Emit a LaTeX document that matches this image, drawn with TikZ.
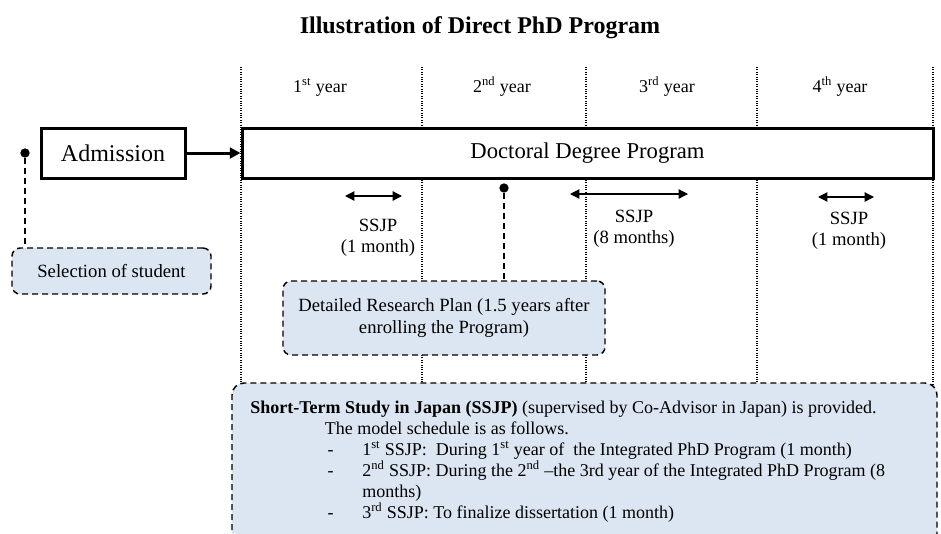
\documentclass[tikz,border=0pt]{standalone}
\usepackage{fontspec}
\setmainfont{Liberation Serif}
\usetikzlibrary{arrows.meta}
\usetikzlibrary{positioning}
\definecolor{notefill}{RGB}{220,230,242}
\tikzset{
  stagebox/.style={draw, line width=2.25pt, fill=white, inner sep=0pt},
  notebox/.style={draw, line width=1.1pt, dash pattern=on 4.5pt off 3pt, rounded corners=6pt, fill=notefill, inner sep=0pt, align=center, font=\fontsize{14}{16.5}\selectfont},
  yeargrid/.style={line width=1.3pt, dash pattern=on 0.7pt off 1.1pt},
  spanarrow/.style={line width=0.9pt, {Triangle[length=7pt,width=7pt]}-{Triangle[length=7pt,width=7pt]}},
  dotmark/.style={circle, fill=black, inner sep=0pt, minimum size=7pt},
  tielink/.style={line width=1.1pt, dash pattern=on 4.5pt off 3pt},
  ssjplabel/.style={align=center, anchor=north, inner sep=0pt, font=\fontsize{14}{15.75}\selectfont}
}
\begin{document}
\begin{tikzpicture}[x=0.75pt,y=0.75pt,yscale=-1,xscale=1]
\useasboundingbox (0,0) rectangle (941,533);

% Title
\node (title) at (480,28) {\fontsize{18}{20}\selectfont\bfseries Illustration of Direct PhD Program};

% Year grid
\foreach \gx in {241,422,586,757,933}
  \draw [yeargrid] (\gx,67) -- (\gx,390);
\node (year1) at (320,87) {\fontsize{13.5}{15}\selectfont 1\textsuperscript{st} year};
\node (year2) at (502,87) {\fontsize{13.5}{15}\selectfont 2\textsuperscript{nd} year};
\node (year3) at (667,87) {\fontsize{13.5}{15}\selectfont 3\textsuperscript{rd} year};
\node (year4) at (840,87) {\fontsize{13.5}{15}\selectfont 4\textsuperscript{th} year};

% Stages
\node [stagebox, minimum width=108pt, minimum height=37.5pt] (admission) at (113,153) {\fontsize{18}{20}\selectfont Admission};
\node [stagebox, minimum width=518.25pt, minimum height=37.5pt] (doctoral) at (587.5,153) {\fontsize{17}{19}\selectfont Doctoral Degree Program};
\draw [line width=2.25pt, -{Triangle[length=8pt,width=8pt]}] (admission) -- (doctoral);

% Selection
\node [dotmark] (dotsel) at (25,153) {};
\node [notebox, minimum width=149.25pt, minimum height=34.5pt] (selection) at (111.5,271) {Selection of student};
\draw [tielink] (dotsel) -- (dotsel |- selection.north);

% Research plan
\node [dotmark] (dotplan) at (504,188) {};
\node [notebox, minimum width=241.5pt, minimum height=55.5pt] (plan) at (444,318) {Detailed Research Plan (1.5 years after\\enrolling the Program)};
\draw [tielink] (dotplan) -- (dotplan |- plan.north);

% SSJP spans
\coordinate (ssjp1a) at (345,196);
\coordinate (ssjp1b) at (402,196);
\draw [spanarrow] (ssjp1a) -- (ssjp1b);
\node [ssjplabel] (ssjp1) at (378,219) {SSJP\\(1 month)};

\coordinate (ssjp2a) at (570,194);
\coordinate (ssjp2b) at (688,194);
\draw [spanarrow] (ssjp2a) -- (ssjp2b);
\node [ssjplabel] (ssjp2) at (634,210) {SSJP\\(8 months)};

\coordinate (ssjp3a) at (818,197);
\coordinate (ssjp3b) at (874,197);
\draw [spanarrow] (ssjp3a) -- (ssjp3b);
\node [ssjplabel] (ssjp3) at (849,212) {SSJP\\(1 month)};

% Note on SSJP
\draw [tielink, rounded corners=9pt, fill=notefill] (232,560) -- (232,383) -- (937,383) -- (937,560);
\node [anchor=north west, align=left, inner sep=0pt, font=\fontsize{13.5}{15.75}\selectfont] (ssjpnote) at (250,401) {%
  \textbf{Short-Term Study in Japan (SSJP)} (supervised by Co-Advisor in Japan) is provided.\\
  \hspace*{56pt}The model schedule is as follows.\\
  \hspace*{58pt}\makebox[26pt][l]{-}1\textsuperscript{st} SSJP:\ \ During 1\textsuperscript{st} year of\ \ the Integrated PhD Program (1 month)\\
  \hspace*{58pt}\makebox[26pt][l]{-}2\textsuperscript{nd} SSJP: During the 2\textsuperscript{nd} --the 3rd year of the Integrated PhD Program (8\\
  \hspace*{84pt}months)\\
  \hspace*{58pt}\makebox[26pt][l]{-}3\textsuperscript{rd} SSJP: To finalize dissertation (1 month)};

\end{tikzpicture}
\end{document}
